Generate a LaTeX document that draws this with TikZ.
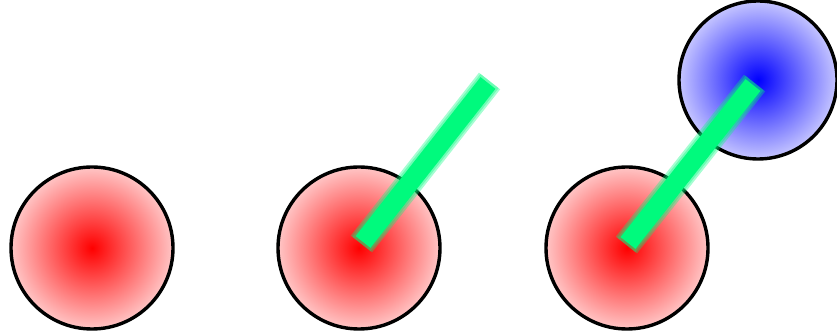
\documentclass[tikz,border=0pt]{standalone}
\usetikzlibrary{calc}
\definecolor{barGreen}{RGB}{0,250,125}
\pgfdeclareradialshading{redball}{\pgfpoint{0bp}{0bp}}{color(0bp)=(red); color(31bp)=(red!4); color(50bp)=(red!4)}
\pgfdeclareradialshading{blueball}{\pgfpoint{0bp}{0bp}}{color(0bp)=(blue); color(31bp)=(blue!4); color(50bp)=(blue!4)}
\tikzset{
  redcirc/.style={circle, draw=black, line width=3.4pt, minimum size=162pt, inner sep=0pt, shading=redball},
  bluecirc/.style={circle, draw=black, line width=3.4pt, minimum size=158pt, inner sep=0pt, shading=blueball},
  barglow/.style={draw=barGreen, line width=#1, opacity=0.35, line cap=butt, shorten <=-2.5pt, shorten >=-2.5pt},
  barcore/.style={draw=barGreen, line width=19pt, line cap=butt}
}
\begin{document}
\begin{tikzpicture}[x=1pt,y=-1pt]
\useasboundingbox (0,0) rectangle (837,336);
\node[redcirc] (c1) at (92,248) {};
\node[redcirc] (c2) at (359,248) {};
\node[redcirc] (c3) at (627,248) {};
\node[bluecirc] (b1) at (758,80) {};
\coordinate (s2) at (363,242);
\coordinate (e2) at (488,83);
\coordinate (s3) at (628,243);
\coordinate (e3) at (753,85);
\foreach \s/\e in {s2/e2,s3/e3}{
  \path[barglow=27pt] (\s) -- (\e);
  \path[barglow=23pt] (\s) -- (\e);
  \path[barcore] (\s) -- (\e);
}
\end{tikzpicture}
\end{document}
